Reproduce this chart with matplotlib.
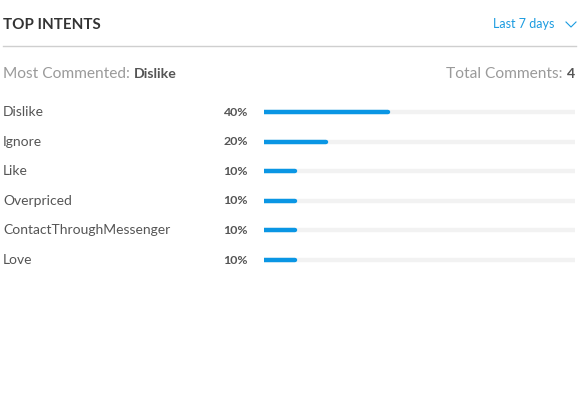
import matplotlib.pyplot as plt
import matplotlib.transforms as mtransforms

# Data
intents = ["Dislike", "Ignore", "Like", "Overpriced", "ContactThroughMessenger", "Love"]
shares = [40, 20, 10, 10, 10, 10]
most_commented = "Dislike"
total_comments = 4

plt.rcParams['font.family'] = ['Lato', 'DejaVu Sans']

W, H = 587, 416
fig = plt.figure(figsize=(W / 100, H / 100), dpi=100)
fig.patch.set_facecolor("white")

# overlay axes in pixel coords for header
bg = fig.add_axes([0, 0, 1, 1])
bg.set_xlim(0, W)
bg.set_ylim(H, 0)
bg.axis("off")

bg.text(3, 25, "TOP INTENTS", fontsize=10.9, fontweight="bold", color="#333333",
        ha="left", va="center")
bg.text(554, 24, "Last 7 days", fontsize=9.0, color="#1a9be0", ha="right", va="center")
# chevron icon
bg.plot([566, 571, 576], [22, 27, 22], color="#1a9be0", lw=0.8)
bg.plot([3, 576], [46, 46], color="#cfcfcf", lw=1)

# summary line, aligned on a common baseline
base = 78.5
t1 = bg.text(3, base, "Most Commented:", fontsize=11.2, color="#9a9a9a", ha="left", va="baseline")
t4 = bg.text(575, base, str(total_comments), fontsize=10.2, fontweight="bold", color="#555555",
             ha="right", va="baseline")
fig.canvas.draw()
inv = bg.transData.inverted()
x1 = inv.transform((t1.get_window_extent().x1, 0))[0]
x4 = inv.transform((t4.get_window_extent().x0, 0))[0]
bg.text(x1 + 4, base, most_commented, fontsize=10.2, fontweight="bold", color="#555555",
        ha="left", va="baseline")
bg.text(x4 - 4, base, "Total Comments:", fontsize=11.2, color="#9a9a9a", ha="right", va="baseline")

# bars axes
left, right = 264, 575
top, bottom = 97.2, 274.8
ax = fig.add_axes([left / W, 1 - bottom / H, (right - left) / W, (bottom - top) / H])
ax.set_xlim(0, 100)
ax.set_ylim(len(intents) - 0.5, -0.5)
ax.axis("off")

ys = list(range(len(intents)))
ax.hlines(ys, 0, 100, color="#f2f2f2", linewidth=3.2, capstyle="round")
ax.hlines(ys, 0, shares, color="#0a96e4", linewidth=3.2, capstyle="round")

trans = mtransforms.blended_transform_factory(fig.transFigure, ax.transData)
for i, (name, v) in enumerate(zip(intents, shares)):
    ax.text(3 / W, i, name, transform=trans, fontsize=10.0, color="#555555",
            ha="left", va="center")
    ax.text(248 / W, i, f"{v}%", transform=trans, fontsize=8.9, fontweight="bold",
            color="#555555", ha="right", va="center")

fig.savefig("out.png", dpi=100, facecolor="white")
